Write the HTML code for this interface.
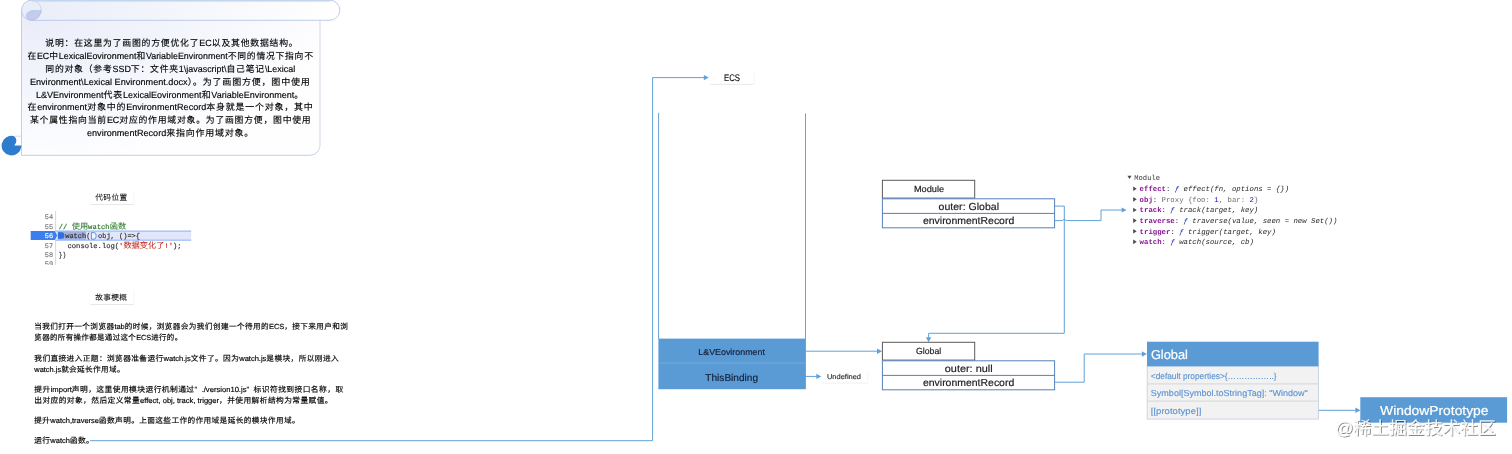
<!DOCTYPE html>
<html lang="zh-CN"><head><meta charset="utf-8"><title>ECS diagram</title>
<style>html,body{margin:0;padding:0;background:#fff;}
body{width:1512px;height:454px;overflow:hidden;}
svg{display:block;font-family:"Liberation Sans",sans-serif;text-rendering:geometricPrecision;will-change:transform;}
text{white-space:pre;}
.m{font-family:"Liberation Mono",monospace;}
.wm{filter:url(#ws);}
</style></head><body>
<svg width="1512" height="454" viewBox="0 0 1512 454">
<defs><radialGradient id="gb" cx="0" cy="0" r="1.05"><stop offset="0" stop-color="#e9ecf9"/><stop offset="0.5" stop-color="#f3f5fc"/><stop offset="1" stop-color="#fefeff"/></radialGradient><linearGradient id="gt" x1="0" y1="0" x2="1" y2="0"><stop offset="0" stop-color="#e9edf9"/><stop offset="0.6" stop-color="#f7f8fd"/><stop offset="1" stop-color="#ffffff"/></linearGradient><filter id="sh" x="-10%" y="-20%" width="120%" height="150%"><feDropShadow dx="0.5" dy="0.9" stdDeviation="0.7" flood-color="#000" flood-opacity="0.1"/></filter><filter id="ws" x="-5%" y="-20%" width="110%" height="140%"><feDropShadow dx="0.85" dy="0.85" stdDeviation="0.28" flood-color="#000" flood-opacity="0.64"/></filter><clipPath id="c59"><rect x="40" y="258" width="16" height="6.9"/></clipPath></defs>
<path d="M21.5 10 V155.3 H310 A10 10 0 0 0 320 145.3 V20 Z" fill="url(#gb)"/>
<path d="M21.5 10 V155.3 H310 A10 10 0 0 0 318 151.3" fill="none" stroke="#b9cae9" stroke-width="0.9"/>
<path d="M318 151.3 A10 10 0 0 0 320 145.3 V20" fill="none" stroke="#cdd3e3" stroke-width="0.9"/>
<rect x="21.5" y="0.2" width="318.3" height="20.1" rx="10" ry="10" fill="url(#gt)" stroke="#b5c6e6" stroke-width="0.9"/>
<path d="M31.5 0.3 A10 10 0 0 1 40.9 13" fill="none" stroke="#bcc6e6" stroke-width="0.7"/>
<rect x="32" y="0" width="298" height="1.6" fill="#c3d6ee"/>
<path d="M26.5 15.6 C26.5 12 29.5 10.5 41 10.5 C40.8 16 36.5 20.2 31.5 20.2 C28.5 20.2 26.5 18.2 26.5 15.6 Z" fill="#c6cbeb" stroke="#aab6e1" stroke-width="0.7"/>
<path d="M30.5 10.5 H41" stroke="#b9d3e6" stroke-width="0.8"/>
<path d="M21.3 145.6 V147 A9.9 9.9 0 1 1 13.5 135.9 C17 137.5 17.3 142.5 14.2 145.6 Z" fill="#2e7ccd"/>
<path d="M14.5 136.2 H21.3" stroke="#c7d3ea" stroke-width="0.8" fill="none"/>
<rect x="89.7" y="190.4" width="43.7" height="13.6" fill="#fff" filter="url(#sh)"/>
<rect x="89.7" y="290.4" width="43.7" height="13.6" fill="#fff" filter="url(#sh)"/>
<rect x="709.5" y="71.8" width="44" height="12" fill="#fff" filter="url(#sh)"/>
<rect x="822" y="370.8" width="45.2" height="11.6" fill="#fff" filter="url(#sh)"/>
<rect x="55.2" y="211" width="0.9" height="54" fill="#d4d4d4"/>
<rect x="55.6" y="231.0" width="135.6" height="9.2" fill="#e1e6fb"/>
<rect x="55.6" y="230.6" width="135.6" height="0.9" fill="#7eaaf3"/>
<rect x="55.6" y="239.7" width="135.6" height="0.9" fill="#7eaaf3"/>
<rect x="57.9" y="231.3" width="28.3" height="8.6" fill="#a3b0dc"/>
<path d="M30.7 231.1 H54.8 L57.2 235.5 L54.8 239.9 H30.7 Z" fill="#3c7ef0"/>
<path d="M57.9 232.2 H61.8 Q64.3 232.2 64.3 235.5 Q64.3 238.8 61.8 238.8 H57.9 Z" fill="#2f6fe0"/>
<path d="M91.4 232.6 H94 Q96.2 232.6 96.2 235.9 Q96.2 239.2 94 239.2 H91.4 Z" fill="#f4f6fe" stroke="#4f86e6" stroke-width="0.9"/>
<path d="M90 440.7 L652.6 440.7 L652.6 77.6 L704.3 77.6" fill="none" stroke="#62a0d8" stroke-width="1"/>
<path d="M708.8 77.6 L703.8 80.3 L703.8 74.9 Z" fill="#62a0d8"/>
<path d="M658.6 112.8 L658.6 339" fill="none" stroke="#6f9fd3" stroke-width="1"/>
<path d="M805.5 113.5 L805.5 339" fill="none" stroke="#6f9fd3" stroke-width="1"/>
<rect x="658.4" y="338.6" width="147.5" height="50.6" fill="#5b9bd5"/>
<rect x="658.4" y="362.6" width="147.5" height="0.8" fill="#78aede"/>
<path d="M805.9 351.2 L877.5 351.2" fill="none" stroke="#62a0d8" stroke-width="1"/>
<path d="M882 351.2 L877 353.9 L877 348.5 Z" fill="#62a0d8"/>
<path d="M805.9 376.4 L816.8 376.4" fill="none" stroke="#62a0d8" stroke-width="1"/>
<path d="M821.3 376.4 L816.3 379.1 L816.3 373.7 Z" fill="#62a0d8"/>
<rect x="882.4" y="180.3" width="92.3" height="17.8" fill="#fff" stroke="#5a5a5a" stroke-width="1"/>
<rect x="882.4" y="198.8" width="172.2" height="29" fill="#fff" stroke="#5580b8" stroke-width="1"/>
<path d="M882.4 213.4 H1054.6" stroke="#5580b8" stroke-width="1"/>
<rect x="882.4" y="342.3" width="92.3" height="17.8" fill="#fff" stroke="#5a5a5a" stroke-width="1"/>
<rect x="882.4" y="360.8" width="172.2" height="29" fill="#fff" stroke="#5580b8" stroke-width="1"/>
<path d="M882.4 375.4 H1054.6" stroke="#5580b8" stroke-width="1"/>
<path d="M1054.6 206.1 L1064.3 206.1 L1064.3 333.3 L928.6 333.3 L928.6 337.7" fill="none" stroke="#62a0d8" stroke-width="1"/>
<path d="M928.6 342.2 L925.9 337.2 L931.3 337.2 Z" fill="#62a0d8"/>
<path d="M1054.6 220.6 H1062.3 Q1064.3 217.6 1066.3 220.6 H1101 V210 H1122.4" fill="none" stroke="#62a0d8" stroke-width="1"/>
<path d="M1126.6 210 L1121.7 207.5 L1121.7 212.5 Z" fill="#62a0d8"/>
<path d="M1054.6 382.2 L1084.2 382.2 L1084.2 354 L1142.4 354" fill="none" stroke="#62a0d8" stroke-width="1"/>
<path d="M1146.9 354 L1141.9 356.7 L1141.9 351.3 Z" fill="#62a0d8"/>
<rect x="1147.2" y="366" width="171.2" height="53.1" fill="#f2f2f2" stroke="#c5d3e8" stroke-width="0.9"/>
<path d="M1147.2 383.9 H1318.4 M1147.2 401.1 H1318.4" stroke="#cfd2d8" stroke-width="0.9"/>
<rect x="1147" y="341.7" width="171.6" height="24.6" fill="#5b9bd5"/>
<path d="M1318.6 410.3 L1355.9 410.3" fill="none" stroke="#62a0d8" stroke-width="1"/>
<path d="M1360.4 410.3 L1355.4 413 L1355.4 407.6 Z" fill="#62a0d8"/>
<rect x="1360.3" y="397.2" width="146.8" height="25.5" fill="#5b9bd5"/>
<path d="M1127.5 175.8 H1131.5 L1129.5 179 Z" fill="#4a4a4a"/>
<path d="M1133.2 186.4 V191 L1136.7 188.7 Z" fill="#4a4a4a"/>
<path d="M1133.2 197.03 V201.63 L1136.7 199.33 Z" fill="#4a4a4a"/>
<path d="M1133.2 207.66 V212.26 L1136.7 209.96 Z" fill="#4a4a4a"/>
<path d="M1133.2 218.29 V222.89 L1136.7 220.59 Z" fill="#4a4a4a"/>
<path d="M1133.2 228.92 V233.52 L1136.7 231.22 Z" fill="#4a4a4a"/>
<path d="M1133.2 239.55 V244.15 L1136.7 241.85 Z" fill="#4a4a4a"/>
<text x="45.3" y="45.94" font-size="8.92" fill="#000" textLength="253.2" lengthAdjust="spacingAndGlyphs" letter-spacing="0.78" stroke="#000" stroke-width="0.14">说明：在这里为了画图的方便优化了<tspan font-size="9.02" letter-spacing="0">EC</tspan>以及其他数据结构。</text>
<text x="27.4" y="58.84" font-size="8.92" fill="#000" textLength="286.3" lengthAdjust="spacingAndGlyphs" letter-spacing="0.78" stroke="#000" stroke-width="0.14">在<tspan font-size="9.02" letter-spacing="0">EC</tspan>中<tspan font-size="9.02" letter-spacing="0">LexicalEovironment</tspan>和<tspan font-size="9.02" letter-spacing="0">VariableEnvironment</tspan>不同的情况下指向不</text>
<text x="45.3" y="71.74" font-size="8.92" fill="#000" textLength="249.9" lengthAdjust="spacingAndGlyphs" letter-spacing="0.78" stroke="#000" stroke-width="0.14">同的对象（参考<tspan font-size="9.02" letter-spacing="0">SSD</tspan>下：文件夹<tspan font-size="9.02" letter-spacing="0">1\javascript\</tspan>自己笔记<tspan font-size="9.02" letter-spacing="0">\Lexical</tspan></text>
<text x="29.9" y="84.64" font-size="8.92" fill="#000" textLength="280.7" lengthAdjust="spacingAndGlyphs" letter-spacing="0.78" stroke="#000" stroke-width="0.14"><tspan font-size="9.02" letter-spacing="0">Environment\Lexical Environment.docx</tspan>）。为了画图方便，图中使用</text>
<text x="36" y="97.54" font-size="8.92" fill="#000" textLength="268" lengthAdjust="spacingAndGlyphs" letter-spacing="0.78" stroke="#000" stroke-width="0.14"><tspan font-size="9.02" letter-spacing="0">L&amp;VEnvironment</tspan>代表<tspan font-size="9.02" letter-spacing="0">LexicalEovironment</tspan>和<tspan font-size="9.02" letter-spacing="0">VariableEnvironment</tspan>。</text>
<text x="27.5" y="110.44" font-size="8.92" fill="#000" textLength="286" lengthAdjust="spacingAndGlyphs" letter-spacing="0.78" stroke="#000" stroke-width="0.14">在<tspan font-size="9.02" letter-spacing="0">environment</tspan>对象中的<tspan font-size="9.02" letter-spacing="0">EnvironmentRecord</tspan>本身就是一个对象，其中</text>
<text x="30" y="123.34" font-size="8.92" fill="#000" textLength="281.5" lengthAdjust="spacingAndGlyphs" letter-spacing="0.78" stroke="#000" stroke-width="0.14">某个属性指向当前<tspan font-size="9.02" letter-spacing="0">EC</tspan>对应的作用域对象。为了画图方便，图中使用</text>
<text x="87" y="136.24" font-size="8.92" fill="#000" textLength="167" lengthAdjust="spacingAndGlyphs" letter-spacing="0.78" stroke="#000" stroke-width="0.14"><tspan font-size="9.02" letter-spacing="0">environmentRecord</tspan>来指向作用域对象。</text>
<text x="95.3" y="199.96" font-size="7.6" fill="#111" textLength="32.2" lengthAdjust="spacingAndGlyphs" letter-spacing="0.4" stroke="#111" stroke-width="0.08">代码位置</text>
<text x="95.2" y="299.96" font-size="7.6" fill="#111" textLength="32.2" lengthAdjust="spacingAndGlyphs" letter-spacing="0.4" stroke="#111" stroke-width="0.08">故事梗概</text>
<text x="34.3" y="328.56" font-size="7.6" fill="#000" textLength="314.1" lengthAdjust="spacingAndGlyphs" letter-spacing="0.4" stroke="#000" stroke-width="0.16">当我们打开一个浏览器<tspan font-size="7.44" letter-spacing="0">tab</tspan>的时候，浏览器会为我们创建一个待用的<tspan font-size="7.44" letter-spacing="0">ECS</tspan>，接下来用户和浏</text>
<text x="34.3" y="340.26" font-size="7.6" fill="#000" textLength="148.2" lengthAdjust="spacingAndGlyphs" letter-spacing="0.4" stroke="#000" stroke-width="0.16">览器的所有操作都是通过这个<tspan font-size="7.44" letter-spacing="0">ECS</tspan>进行的。</text>
<text x="34.3" y="360.86" font-size="7.6" fill="#000" textLength="304.8" lengthAdjust="spacingAndGlyphs" letter-spacing="0.4" stroke="#000" stroke-width="0.16">我们直接进入正题：浏览器准备运行<tspan font-size="7.44" letter-spacing="0">watch.js</tspan>文件了。因为<tspan font-size="7.44" letter-spacing="0">watch.js</tspan>是模块，所以刚进入</text>
<text x="34.3" y="371.66" font-size="7.6" fill="#000" textLength="90.7" lengthAdjust="spacingAndGlyphs" letter-spacing="0.4" stroke="#000" stroke-width="0.16"><tspan font-size="7.44" letter-spacing="0">watch.js</tspan>就会延长作用域。</text>
<text x="34.3" y="391.56" font-size="7.6" fill="#000" textLength="309.3" lengthAdjust="spacingAndGlyphs" letter-spacing="0.4" stroke="#000" stroke-width="0.16">提升<tspan font-size="7.44" letter-spacing="0">import</tspan>声明，这里使用模块运行机制通过”<tspan font-size="7.44" letter-spacing="0" dx="4">./version10.js</tspan>”<tspan dx="4">标</tspan>识符找到接口名称，取</text>
<text x="34.3" y="402.86" font-size="7.6" fill="#000" textLength="298.7" lengthAdjust="spacingAndGlyphs" letter-spacing="0.4" stroke="#000" stroke-width="0.16">出对应的对象，然后定义常量<tspan font-size="7.44" letter-spacing="0">effect, obj, track, trigger</tspan>，并使用解析结构为常量赋值。</text>
<text x="34.3" y="422.76" font-size="7.6" fill="#000" textLength="265.7" lengthAdjust="spacingAndGlyphs" letter-spacing="0.4" stroke="#000" stroke-width="0.16">提升<tspan font-size="7.44" letter-spacing="0">watch,traverse</tspan>函数声明。上面这些工作的作用域是延长的模块作用域。</text>
<text x="34.3" y="443.16" font-size="7.6" fill="#000" textLength="59.7" lengthAdjust="spacingAndGlyphs" letter-spacing="0.4" stroke="#000" stroke-width="0.16">运行<tspan font-size="7.44" letter-spacing="0">watch</tspan>函数。</text>
<text x="53.1" y="218.9" font-size="7" fill="#777" text-anchor="end" textLength="8.3" lengthAdjust="spacingAndGlyphs" class="m" stroke="#777" stroke-width="0.15">54</text>
<text x="53.1" y="228.5" font-size="7" fill="#777" text-anchor="end" textLength="8.3" lengthAdjust="spacingAndGlyphs" class="m" stroke="#777" stroke-width="0.15">55</text>
<text x="53.1" y="238" font-size="7" fill="#fff" text-anchor="end" textLength="8.3" lengthAdjust="spacingAndGlyphs" class="m" stroke="#fff" stroke-width="0.15">56</text>
<text x="53.1" y="247.6" font-size="7" fill="#777" text-anchor="end" textLength="8.3" lengthAdjust="spacingAndGlyphs" class="m" stroke="#777" stroke-width="0.15">57</text>
<text x="53.1" y="257.1" font-size="7" fill="#777" text-anchor="end" textLength="8.3" lengthAdjust="spacingAndGlyphs" class="m" stroke="#777" stroke-width="0.15">58</text>
<text x="53.1" y="266.4" font-size="7" fill="#777" text-anchor="end" textLength="8.3" lengthAdjust="spacingAndGlyphs" class="m" clip-path="url(#c59)" stroke="#777" stroke-width="0.15">59</text>
<text x="58.8" y="228.6" font-size="7" fill="#2a7a2a" textLength="67.3" lengthAdjust="spacingAndGlyphs" class="m" stroke="#2a7a2a" stroke-width="0.18">// <tspan font-size="8" stroke-width="0.05">使用</tspan>watch<tspan font-size="8" stroke-width="0.05">函数</tspan></text>
<text x="65.2" y="238.4" font-size="7" fill="#333" textLength="25.2" lengthAdjust="spacingAndGlyphs" class="m" stroke="#333" stroke-width="0.18">watch(</text>
<text x="98" y="238.4" font-size="7" fill="#333" textLength="42" lengthAdjust="spacingAndGlyphs" class="m" stroke="#333" stroke-width="0.18">obj, ()=&gt;{</text>
<text x="67.5" y="247.9" font-size="7" fill="#333" textLength="114.1" lengthAdjust="spacingAndGlyphs" class="m" stroke="#333" stroke-width="0.18">console.log(<tspan fill="#c4281c" stroke="#c4281c">'<tspan font-size="8" stroke-width="0.05">数据变化了</tspan>!'</tspan>);</text>
<text x="58.8" y="257.4" font-size="7" fill="#333" textLength="7.4" lengthAdjust="spacingAndGlyphs" class="m" stroke="#333" stroke-width="0.18">})</text>
<text x="732" y="81.4" font-size="9.6" fill="#111" text-anchor="middle" textLength="16.1" lengthAdjust="spacingAndGlyphs" stroke="#111" stroke-width="0.15">ECS</text>
<text x="731.6" y="354.7" font-size="8.7" fill="#15223d" text-anchor="middle" textLength="66.6" lengthAdjust="spacingAndGlyphs" stroke="#15223d" stroke-width="0.2">L&amp;VEovironment</text>
<text x="731.7" y="380.5" font-size="9.9" fill="#15223d" text-anchor="middle" textLength="52.7" lengthAdjust="spacingAndGlyphs" stroke="#15223d" stroke-width="0.2">ThisBinding</text>
<text x="844" y="378.7" font-size="7" fill="#333" text-anchor="middle" textLength="34.1" lengthAdjust="spacingAndGlyphs" stroke="#333" stroke-width="0.18">Undefined</text>
<text x="929" y="192.3" font-size="8.8" fill="#1c1c1c" text-anchor="middle" textLength="30.2" lengthAdjust="spacingAndGlyphs" stroke="#1c1c1c" stroke-width="0.18">Module</text>
<text x="968.8" y="209.7" font-size="10.2" fill="#1c1c1c" text-anchor="middle" textLength="60.4" lengthAdjust="spacingAndGlyphs" stroke="#1c1c1c" stroke-width="0.18">outer: Global</text>
<text x="968.6" y="223.9" font-size="10.2" fill="#1c1c1c" text-anchor="middle" textLength="91.3" lengthAdjust="spacingAndGlyphs" stroke="#1c1c1c" stroke-width="0.18">environmentRecord</text>
<text x="928.6" y="354.3" font-size="8.8" fill="#1c1c1c" text-anchor="middle" textLength="25.2" lengthAdjust="spacingAndGlyphs" stroke="#1c1c1c" stroke-width="0.18">Global</text>
<text x="968.7" y="371.6" font-size="10.2" fill="#1c1c1c" text-anchor="middle" textLength="47.8" lengthAdjust="spacingAndGlyphs" stroke="#1c1c1c" stroke-width="0.18">outer: null</text>
<text x="968.6" y="385.9" font-size="10.2" fill="#1c1c1c" text-anchor="middle" textLength="91.3" lengthAdjust="spacingAndGlyphs" stroke="#1c1c1c" stroke-width="0.18">environmentRecord</text>
<text x="1150.9" y="358.6" font-size="12.9" fill="#fff" textLength="37" lengthAdjust="spacingAndGlyphs" stroke="#fff" stroke-width="0.2">Global</text>
<text x="1150.8" y="378.6" font-size="8.7" fill="#5a92d2" textLength="125.8" lengthAdjust="spacingAndGlyphs" stroke="#5a92d2" stroke-width="0.12">&lt;default properties&gt;{……………..}</text>
<text x="1150.8" y="395.8" font-size="8.7" fill="#5a92d2" textLength="157" lengthAdjust="spacingAndGlyphs" stroke="#5a92d2" stroke-width="0.12">Symbol[Symbol.toStringTag]: "Window"</text>
<text x="1150.8" y="413.5" font-size="8.7" fill="#5a92d2" textLength="50.5" lengthAdjust="spacingAndGlyphs" stroke="#5a92d2" stroke-width="0.12">[[prototype]]</text>
<text x="1434.3" y="414.7" font-size="13.1" fill="#fff" text-anchor="middle" textLength="108.4" lengthAdjust="spacingAndGlyphs" stroke="#fff" stroke-width="0.2">WindowPrototype</text>
<text x="1134.3" y="179.7" font-size="7.33" fill="#333" textLength="25.7" lengthAdjust="spacingAndGlyphs" class="m">Module</text>
<text x="1139.6" y="191.1" font-size="7.33" fill="#222" textLength="149.46" lengthAdjust="spacingAndGlyphs" class="m"><tspan font-weight="bold" fill="#881391">effect</tspan>: <tspan font-style="italic" fill="#0d22aa">ƒ</tspan> <tspan font-style="italic">effect(fn, options = {})</tspan></text>
<text x="1139.6" y="201.73" font-size="7.33" fill="#222" textLength="118.69" lengthAdjust="spacingAndGlyphs" class="m"><tspan font-weight="bold" fill="#881391">obj</tspan>: <tspan fill="#6b6b6b">Proxy {foo: <tspan fill="#1c00cf">1</tspan>, bar: <tspan fill="#1c00cf">2</tspan>}</tspan></text>
<text x="1139.6" y="212.36" font-size="7.33" fill="#222" textLength="118.69" lengthAdjust="spacingAndGlyphs" class="m"><tspan font-weight="bold" fill="#881391">track</tspan>: <tspan font-style="italic" fill="#0d22aa">ƒ</tspan> <tspan font-style="italic">track(target, key)</tspan></text>
<text x="1139.6" y="222.99" font-size="7.33" fill="#222" textLength="197.82" lengthAdjust="spacingAndGlyphs" class="m"><tspan font-weight="bold" fill="#881391">traverse</tspan>: <tspan font-style="italic" fill="#0d22aa">ƒ</tspan> <tspan font-style="italic">traverse(value, seen = new Set())</tspan></text>
<text x="1139.6" y="233.62" font-size="7.33" fill="#222" textLength="136.28" lengthAdjust="spacingAndGlyphs" class="m"><tspan font-weight="bold" fill="#881391">trigger</tspan>: <tspan font-style="italic" fill="#0d22aa">ƒ</tspan> <tspan font-style="italic">trigger(target, key)</tspan></text>
<text x="1139.6" y="244.25" font-size="7.33" fill="#222" textLength="114.3" lengthAdjust="spacingAndGlyphs" class="m"><tspan font-weight="bold" fill="#881391">watch</tspan>: <tspan font-style="italic" fill="#0d22aa">ƒ</tspan> <tspan font-style="italic">watch(source, cb)</tspan></text>
<text x="1335.3" y="434.4" font-size="17.6" fill="#fff" textLength="160.6" lengthAdjust="spacingAndGlyphs" class="wm" fill-opacity="0.85" font-weight="300">@稀土掘金技术社区</text>
</svg>
</body></html>
